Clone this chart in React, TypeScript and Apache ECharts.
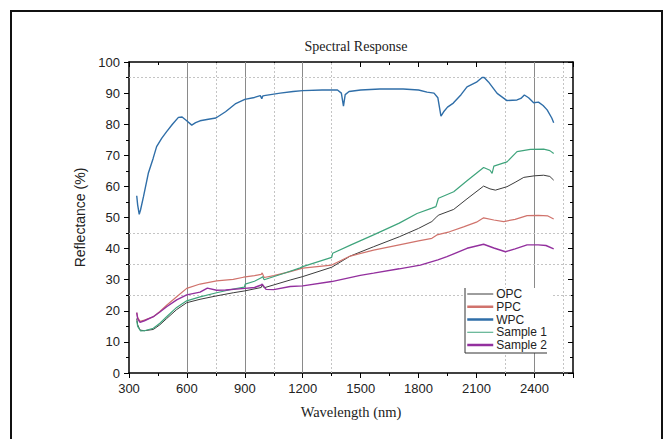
import React, { useEffect, useRef } from "react";
import * as echarts from "echarts";

// ---- Data ----
const wpcWl = [340, 345, 353, 360, 375, 400, 425, 443, 470, 495, 525, 556, 575, 599, 625, 645, 668, 711, 750, 800, 850, 900, 950, 980, 988, 992, 1000, 1083, 1150, 1200, 1300, 1380, 1400, 1411, 1420, 1440, 1500, 1600, 1720, 1800, 1844, 1880, 1900, 1916, 1930, 1950, 1980, 2020, 2051, 2100, 2129, 2140, 2162, 2207, 2258, 2310, 2330, 2348, 2370, 2396, 2421, 2445, 2466, 2490, 2500];
const wpcVal = [57, 54, 51, 52.5, 56.7, 64.2, 69, 72.8, 75.5, 77.6, 80, 82.2, 82.3, 81.1, 79.7, 80.5, 81.1, 81.6, 82, 84, 86.5, 88, 88.6, 89.2, 88.2, 89, 89.2, 90, 90.5, 90.8, 91, 91, 90, 85.8, 89.5, 90.5, 91, 91.3, 91.3, 91, 90.3, 90, 88.5, 82.6, 84, 85.5, 86.8, 89.5, 92, 93.5, 95, 95, 93.6, 89.9, 87.6, 87.8, 88.3, 89.4, 88.5, 86.9, 87.1, 86, 84.6, 82, 80.5];

const ppcWl = [340, 345, 357, 380, 426, 460, 495, 547, 599, 668, 754, 840, 893, 950, 985, 990, 1000, 1050, 1135, 1200, 1350, 1446, 1567, 1700, 1800, 1869, 1895, 1960, 2033, 2100, 2137, 2190, 2241, 2300, 2362, 2420, 2470, 2500];
const ppcVal = [19.4, 17.8, 16.6, 17.0, 18.1, 19.8, 21.8, 24.5, 27.2, 28.6, 29.6, 30.1, 30.8, 31.3, 31.7, 32.2, 30.7, 31.3, 32.6, 33.7, 34.7, 37.6, 39.5, 41.2, 42.5, 43.3, 44.4, 45.4, 47, 48.5, 49.9, 49.2, 48.7, 49.4, 50.6, 50.7, 50.5, 49.5];

const opcWl = [340, 345, 357, 380, 426, 460, 495, 547, 599, 668, 754, 840, 900, 985, 990, 1000, 1135, 1200, 1350, 1446, 1567, 1700, 1800, 1869, 1895, 1905, 1982, 2051, 2137, 2170, 2198, 2258, 2300, 2345, 2400, 2448, 2480, 2500];
const opcVal = [17.5, 15.5, 13.8, 13.6, 14.0, 15.5, 17.5, 20.4, 22.6, 23.7, 24.8, 25.8, 26.4, 27.5, 28.3, 27.4, 29.9, 31, 34, 37.6, 40.6, 43.8, 46.5, 48.7, 50.3, 50.8, 52.6, 56, 60.1, 59.2, 58.8, 59.9, 61.3, 62.9, 63.4, 63.6, 63.2, 62];

const s1Wl = [340, 345, 360, 380, 426, 460, 495, 547, 599, 668, 754, 840, 898, 902, 950, 985, 992, 1000, 1100, 1187, 1200, 1350, 1355, 1450, 1567, 1700, 1792, 1869, 1890, 1903, 1982, 2051, 2137, 2170, 2181, 2190, 2258, 2310, 2379, 2448, 2480, 2500];
const s1Val = [16.8, 15, 13.5, 13.6, 14.4, 16, 18.1, 21.1, 23.2, 24.5, 25.8, 27.0, 27.6, 28.6, 29.5, 30.6, 31, 30.0, 32, 33.8, 34.2, 37.2, 38.5, 41.2, 44.4, 48.2, 51.3, 53, 53.5, 56.2, 58.3, 61.8, 66.1, 65.2, 64.2, 66.5, 67.9, 71.2, 71.9, 72, 71.5, 70.6];

const s2Wl = [340, 345, 357, 380, 426, 460, 495, 547, 599, 668, 706, 754, 800, 900, 950, 985, 990, 1010, 1050, 1135, 1200, 1350, 1498, 1567, 1700, 1809, 1900, 1947, 2051, 2137, 2190, 2250, 2300, 2362, 2420, 2460, 2500];
const s2Val = [19.4, 17.5, 16.3, 16.8, 18.1, 19.6, 21.3, 23.5, 25.1, 26.0, 27.3, 26.6, 26.7, 27.2, 27.5, 28.3, 28.6, 26.9, 26.8, 27.8, 28, 29.4, 31.4, 32.1, 33.5, 34.7, 36.4, 37.4, 40.1, 41.4, 40.2, 39, 39.9, 41.2, 41.2, 41.0, 39.9];

const seriesNames = ["OPC", "PPC", "WPC", "Sample 1", "Sample 2"];
const gridSolidX = [600, 900, 1200, 2400];
const gridDashedX = [750, 1050, 1350, 2250, 2550];
const gridDashedY = [95, 45, 35, 25];

const zip = (xs: number[], ys: number[]) => xs.map((x, i) => [x, ys[i]]);

export default function App() {
  const ref = useRef<HTMLDivElement>(null);
  useEffect(() => {
    if (!ref.current) return;
    const chart = echarts.init(ref.current, null, { renderer: "svg" });
    const sans = "Liberation Sans, Arial, sans-serif";
    const serif = "Liberation Serif, Times New Roman, serif";
    const colors = ["#3c3c3c", "#d0736c", "#2f6ea8", "#3fa47c", "#93309e"];
    const widths = [1, 1.2, 1.4, 1.2, 1.4];
    const legendWidths = [1, 2.5, 2.5, 1, 2.5];
    const datasets = [zip(opcWl, opcVal), zip(ppcWl, ppcVal), zip(wpcWl, wpcVal), zip(s1Wl, s1Val), zip(s2Wl, s2Val)];

    const markLineData: any[] = [
      ...gridSolidX.map((v) => ({ xAxis: v, lineStyle: { color: "#8a8a8a", width: 1, type: "solid" } })),
      ...gridDashedX.map((v) => ({ xAxis: v, lineStyle: { color: "#c4c4c4", width: 1, type: [2, 2] } })),
      ...gridDashedY.map((v) => ({ yAxis: v, lineStyle: { color: "#c4c4c4", width: 1, type: [2, 2] } })),
    ];

    const axisLine = { show: true, onZero: false, lineStyle: { color: "#000", width: 1.5 } };

    chart.setOption({
      animation: false,
      color: colors,
      title: {
        text: "Spectral Response",
        left: 351,
        textAlign: "center",
        top: 34,
        textStyle: { fontFamily: serif, fontSize: 14, fontWeight: "normal", color: "#222" },
      },
      grid: { left: 129, right: 94, top: 62, bottom: 66 },
      legend: {
        orient: "vertical",
        left: 465,
        top: 288,
        padding: [0, 4, 2, 1],
        backgroundColor: "#fff",
        itemWidth: 26,
        itemHeight: 12,
        itemGap: 0.75,
        itemStyle: { opacity: 0 },
        textStyle: { fontFamily: sans, fontSize: 12, color: "#222", padding: [0, 0, 0, -2] },
        data: seriesNames.map((n, i) => ({ name: n, lineStyle: { width: legendWidths[i] } })),
      },
      xAxis: [
        {
          type: "value",
          min: 300,
          max: 2600,
          interval: 300,
          name: "Wavelength (nm)",
          nameLocation: "middle",
          nameGap: 31,
          nameTextStyle: { fontFamily: serif, fontSize: 14.5, color: "#222" },
          axisLine,
          axisTick: { show: true, inside: false, length: 5, lineStyle: { color: "#000", width: 1 } },
          minorTick: { show: true, splitNumber: 2, length: 3, lineStyle: { color: "#000", width: 1 } },
          axisLabel: {
            fontFamily: sans,
            fontSize: 13,
            color: "#222",
            margin: 9,
            showMaxLabel: false,
            formatter: (v: number) => (v > 2400 ? "" : String(v)),
          },
          splitLine: { show: false },
        },
        {
          type: "value",
          position: "top",
          min: 300,
          max: 2600,
          interval: 300,
          axisLine,
          axisTick: { show: true, inside: true, length: 5, lineStyle: { color: "#000", width: 1 } },
          minorTick: { show: true, splitNumber: 2, length: 3, lineStyle: { color: "#000", width: 1 } },
          axisLabel: { show: false },
          splitLine: { show: false },
        },
      ],
      yAxis: [
        {
          type: "value",
          min: 0,
          max: 100,
          interval: 10,
          name: "Reflectance (%)",
          nameLocation: "middle",
          nameGap: 42,
          nameTextStyle: { fontFamily: sans, fontSize: 14, color: "#222" },
          axisLine,
          axisTick: { show: true, inside: false, length: 5, lineStyle: { color: "#000", width: 1 } },
          minorTick: { show: true, splitNumber: 2, length: 3, lineStyle: { color: "#000", width: 1 } },
          axisLabel: { fontFamily: sans, fontSize: 13, color: "#222", margin: 9 },
          splitLine: { show: false },
        },
        {
          type: "value",
          position: "right",
          min: 0,
          max: 100,
          interval: 10,
          axisLine,
          axisTick: { show: true, inside: true, length: 5, lineStyle: { color: "#000", width: 1 } },
          minorTick: { show: true, splitNumber: 2, length: 3, lineStyle: { color: "#000", width: 1 } },
          axisLabel: { show: false },
          splitLine: { show: false },
        },
      ],
      series: seriesNames.map((n, i) => ({
        name: n,
        type: "line",
        data: datasets[i],
        showSymbol: false,
        symbol: "none",
        smooth: false,
        xAxisIndex: 0,
        yAxisIndex: 0,
        lineStyle: { width: widths[i], color: colors[i] },
        itemStyle: { color: colors[i] },
        z: 3,
        ...(i === 0
          ? {
              markLine: {
                silent: true,
                symbol: ["none", "none"],
                label: { show: false },
                animation: false,
                z: 1,
                data: markLineData,
              },
            }
          : {}),
      })),
      graphic: [
        {
          type: "rect",
          shape: { x: 11, y: 11, width: 651, height: 440 },
          style: { fill: "none", stroke: "#111", lineWidth: 2 },
          z: 10,
          silent: true,
        },
        {
          type: "line",
          shape: { x1: 465, y1: 288, x2: 465, y2: 353 },
          style: { stroke: "#333", lineWidth: 1 },
          z: 10,
        },
        {
          type: "line",
          shape: { x1: 465, y1: 353, x2: 547, y2: 353 },
          style: { stroke: "#333", lineWidth: 1 },
          z: 10,
        },
      ],
    });
    return () => chart.dispose();
  }, []);
  return (
    <div
      ref={ref}
      style={{ position: "fixed", left: 0, top: 0, width: 667, height: 439, background: "#fff" }}
    />
  );
}
